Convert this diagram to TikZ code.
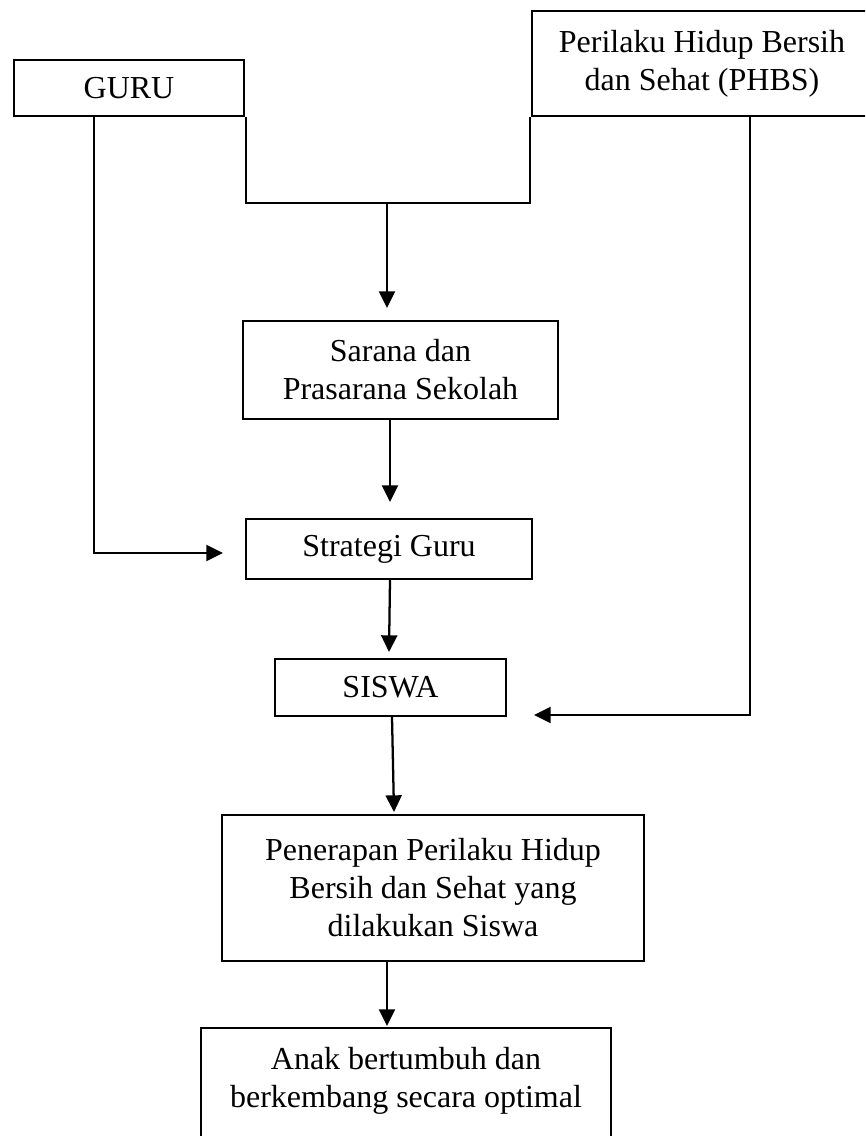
\documentclass[tikz,border=0pt]{standalone}
\usepackage{fontspec}
\setmainfont{Liberation Serif}
\usetikzlibrary{arrows.meta}
\begin{document}
\begin{tikzpicture}[x=0.75pt,y=-0.75pt,
  txt/.style={inner sep=0pt,align=center,font=\fontsize{24}{28.5}\selectfont},
  box/.style={txt,draw,line width=1.7pt,rectangle},
  conn/.style={line width=1.7pt},
  arr/.style={conn,-{Triangle[length=12.5pt,width=12pt]}}]
\clip (0,0) rectangle (865,1136);
\fill[white] (0,0) rectangle (865,1136);
% boxes
\node[box,minimum width=172.5pt,minimum height=42pt] (guru) at (129,88) {GURU};
\node[box,minimum width=255pt,minimum height=78.75pt] (phbs) at (702,63.5) {Perilaku Hidup Bersih\\dan Sehat (PHBS)};
\node[box,minimum width=236.25pt,minimum height=73.5pt] (sarana) at (400.5,370) {Sarana dan\\Prasarana Sekolah};
\node[box,minimum width=214.5pt,minimum height=45pt] (strategi) at (389,549) {Strategi Guru};
\node[box,minimum width=173.25pt,minimum height=42.75pt] (siswa) at (390.5,687.5) {SISWA};
\node[box,minimum width=316.5pt,minimum height=109.5pt] (penerapan) at (433,888) {Penerapan Perilaku Hidup\\Bersih dan Sehat yang\\dilakukan Siswa};
\node[txt] (anak) at (406,1081) {Anak bertumbuh dan\\berkembang secara optimal};
\draw[line width=1.7pt] (201,1160) |- (611,1028) -- (611,1160);
% free ends
\coordinate (t1) at (387,308);
\coordinate (t2) at (390,502);
\coordinate (t3) at (389,652);
\coordinate (t4) at (394,812);
\coordinate (t5) at (387,1026);
\coordinate (t6) at (223,553);
\coordinate (t7) at (534,715);
\coordinate (j) at (387,203);
% connectors
\draw[conn] (guru.south -| 246,0) |- (530,203) -- (phbs.south -| 530,0);
\draw[arr] (j) -- (t1);
\draw[arr] (sarana.south -| 390,0) -- (t2);
\draw[arr] (strategi.south -| 390,0) -- (t3);
\draw[arr] (siswa.south -| 392,0) -- (t4);
\draw[arr] (penerapan.south -| 387,0) -- (t5);
\draw[arr] (guru.south -| 94,0) |- (t6);
\draw[arr] (phbs.south -| 750,0) |- (t7);
\end{tikzpicture}
\end{document}
